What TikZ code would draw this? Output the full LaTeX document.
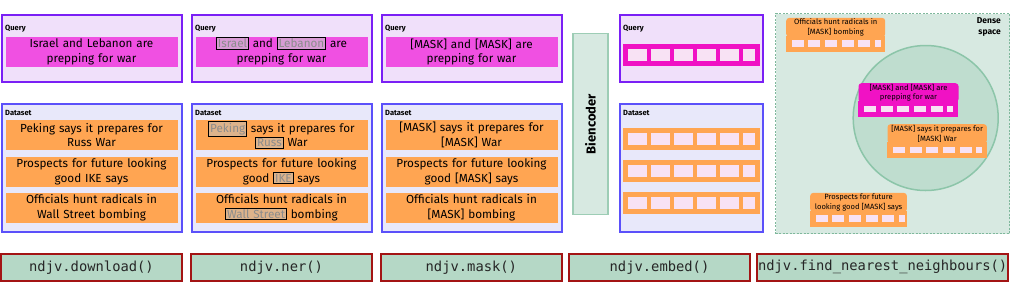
\documentclass[tikz,border=0pt]{standalone}
\usepackage{fontspec}
\setmainfont{Fira Sans}
\setmonofont{DejaVu Sans Mono}
\usepackage{xcolor}

\definecolor{qborder}{HTML}{7A1FF5}
\definecolor{qfill}{HTML}{F0E0FA}
\definecolor{qpink}{HTML}{F050E2}
\definecolor{dborder}{HTML}{5B50FA}
\definecolor{dfill}{HTML}{E8E8FA}
\definecolor{dorange}{HTML}{FFA552}
\definecolor{embpink}{HTML}{F012C4}
\definecolor{cellcol}{HTML}{F8E2F4}
\definecolor{encfill}{HTML}{D7E9E1}
\definecolor{encborder}{HTML}{9DCDB5}
\definecolor{fnfill}{HTML}{B5D8C6}
\definecolor{fnborder}{HTML}{A31414}
\definecolor{spaceborder}{HTML}{7FB89C}
\definecolor{circfill}{HTML}{BFDDCF}
\definecolor{circborder}{HTML}{8CC5A9}
\definecolor{entq}{HTML}{D89CD4}
\definecolor{entd}{HTML}{DDB38B}

\begin{document}
\begin{tikzpicture}[x=1pt,y=-1pt,
	box/.style={anchor=north west, inner sep=0pt, outer sep=0pt},
	qpanel/.style={box, draw=qborder, fill=qfill, line width=2pt, minimum height=67},
	dpanel/.style={box, draw=dborder, fill=dfill, line width=2pt, minimum height=128},
	lbl/.style={anchor=west, inner sep=0pt, font=\bfseries\fontsize{7.5}{9}\selectfont},
	sentence/.style={minimum width=172, minimum height=30, text width=170, align=center, inner sep=0pt, font=\fontsize{11.7}{14.3}\selectfont},
	barbox/.style={box, minimum width=137.3, minimum height=21.7},
	cardtext/.style={anchor=north west, rounded corners=3pt, minimum height=19, inner sep=0pt, align=center, font=\fontsize{7.6}{9.7}\selectfont},
	fnbox/.style={box, draw=fnborder, fill=fnfill, line width=2pt, minimum height=27, text=black!85, font=\ttfamily\fontsize{13.8}{16}\selectfont}
]
	\useasboundingbox (0,0) rectangle (1012,290);
	\newcommand{\entq}[1]{\smash{\setlength{\fboxsep}{1pt}\setlength{\fboxrule}{0.8pt}\fcolorbox{black}{entq}{\textcolor{black!45}{#1}}}}
	\newcommand{\entd}[1]{\smash{\setlength{\fboxsep}{1pt}\setlength{\fboxrule}{0.8pt}\fcolorbox{black}{entd}{\textcolor{black!45}{#1}}}}
	\newcommand{\embbar}[4]{
		\node[barbox, fill=#4] (#1) at (#2,#3) {};
		\foreach \cell in {0,...,4}
			\fill[cellcol] (#2+5+23*\cell,#3+5) rectangle ++(19,12);
		\fill[cellcol] (#2+120,#3+5) rectangle ++(12.5,12);
	}
	\newcommand{\card}[6]{
		\fill[#5] (#2,#3+18) rectangle ++(#4,16);
		\node[cardtext, fill=#5, minimum width=#4] (#1) at (#2,#3) {#6};
		\foreach \cell in {0,...,4}
			\fill[cellcol] (#2+5.5+16.7*\cell,#3+22.5) rectangle ++(12,6.5);
		\fill[cellcol] (#2+89,#3+22.5) rectangle ++(6,6.5);
	}
	\foreach
	\px/\name/\query/\da/\db/\dc
	in
	{
		1/download/{Israel and Lebanon are\\prepping for war}/{Peking says it prepares for\\Russ War}/{Prospects for future looking\\good IKE says}/{Officials hunt radicals in\\Wall Street bombing},
		191/ner/{\entq{Israel} and \entq{Lebanon} are\\prepping for war}/{\entd{Peking} says it prepares for\\\entd{Russ} War}/{Prospects for future looking\\good \entd{IKE} says}/{Officials hunt radicals in\\\entd{Wall Street} bombing},
		381/mask/{[MASK] and [MASK] are\\prepping for war}/{[MASK] says it prepares for\\{[MASK]} War}/{Prospects for future looking\\good [MASK] says}/{Officials hunt radicals in\\{[MASK]} bombing}
	}
	{
		\node[qpanel, minimum width=180] (\name-query) at (\px+1,15) {};
		\node[lbl] (\name-qlabel) at (\px+4,29) {Query};
		\node[sentence, fill=qpink] (\name-qtext) at (\px+90.5,52) {\query};
		\node[dpanel, minimum width=180] (\name-data) at (\px+1,104) {};
		\node[lbl] (\name-dlabel) at (\px+4,113) {Dataset};
		\node[sentence, fill=dorange] (\name-d1) at (\px+90.5,135) {\da};
		\node[sentence, fill=dorange] (\name-d2) at (\px+90.5,171.7) {\db};
		\node[sentence, fill=dorange] (\name-d3) at (\px+90.5,207.7) {\dc};
	}
	\node[rotate=90, draw=encborder, fill=encfill, line width=1.5pt, minimum width=181, minimum height=35, inner sep=0pt, font=\bfseries\fontsize{13}{15}\selectfont] (encoder) at (590.5,124) {Biencoder};
	% embeddings
	\node[qpanel, minimum width=143] (embed-query) at (620,15) {};
	\node[lbl] (embed-qlabel) at (623,29) {Query};
	\embbar{embed-qbar}{622.7}{44}{embpink}
	\node[dpanel, minimum width=143] (embed-data) at (620,104) {};
	\node[lbl] (embed-dlabel) at (623,113) {Dataset};
	\foreach \by [count=\i] in {128,160,192}
		{\embbar{embed-d\i}{622.7}{\by}{dorange}}
	% dense space
	\node[box, draw=spaceborder, fill=encfill, dash pattern=on 2pt off 1.5pt, line width=0.8pt, minimum width=234, minimum height=220] (space) at (775.5,13.8) {};
	\node[anchor=north east, align=right, inner sep=0pt, font=\bfseries\fontsize{8.5}{10.7}\selectfont] (space-label) at (1001,17.5) {Dense\\space};
	\node[circle, draw=circborder, fill=circfill, line width=1.5pt, minimum size=145, inner sep=0pt] (neighbourhood) at (925.7,118) {};
	\card{card-bombing}{786}{17.7}{99}{dorange}{Officials hunt radicals in\\{[MASK]} bombing}
	\card{card-query}{858.3}{83}{100}{embpink}{[MASK] and [MASK] are\\prepping for war}
	\card{card-peking}{887.3}{124}{99.4}{dorange}{[MASK] says it prepares for\\{[MASK]} War}
	\card{card-prospects}{810}{192.7}{96.7}{dorange}{Prospects for future\\looking good [MASK] says}
	% calls
	\foreach \fx/\fw/\fname/\call in {0/183/download/{ndjv.download()}, 190.3/182.4/ner/{ndjv.ner()}, 380/182.7/mask/{ndjv.mask()}, 568.3/182.4/embed/{ndjv.embed()}, 756/253.3/nn/{ndjv.find\_nearest\_neighbours()}}
		\node[fnbox, minimum width=\fw-2] (\fname-call) at (\fx+1,253.7) {\call};
\end{tikzpicture}
\end{document}
